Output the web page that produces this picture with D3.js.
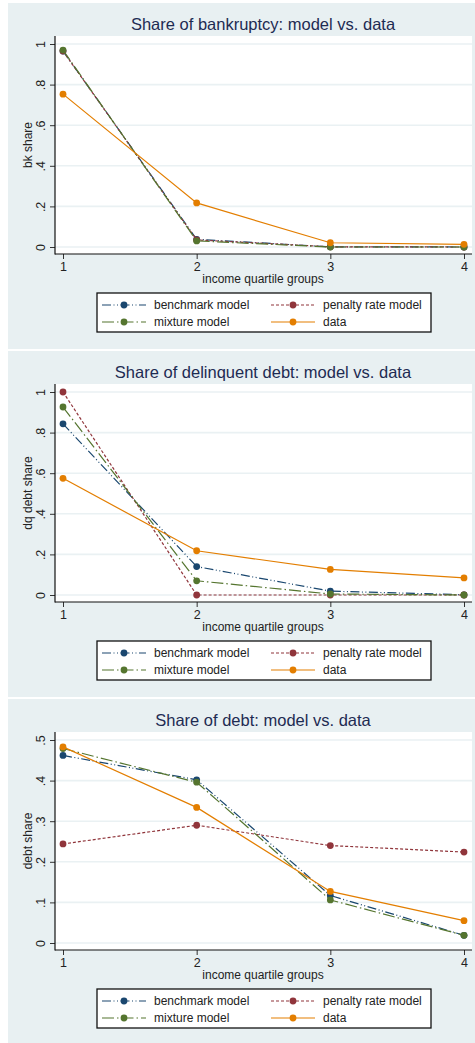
<!DOCTYPE html>
<html><head><meta charset="utf-8">
<script src="https://cdn.jsdelivr.net/npm/d3@7/dist/d3.min.js"></script>
<style>
html,body{margin:0;padding:0;background:#fff;}
svg{display:block;font-family:"Liberation Sans",Arial,Helvetica,sans-serif;}
</style></head>
<body>
<svg id="chart" width="475" height="1043"></svg>
<script>
// ---- data ----
const quartiles = [1, 2, 3, 4];
const seriesNames = ["benchmark model", "penalty rate model", "mixture model", "data"];

const titles = ["Share of bankruptcy: model vs. data", "Share of delinquent debt: model vs. data", "Share of debt: model vs. data"];
const yTitles = ["bk share", "dq debt share", "debt share"];
const xTitle = "income quartile groups";

const bkBenchmark = [0.965, 0.038, 0.001, 0.0];
const bkPenalty   = [0.965, 0.035, 0.001, 0.0];
const bkMixture   = [0.970, 0.030, 0.0, 0.0];
const bkData      = [0.753, 0.217, 0.021, 0.013];

const dqBenchmark = [0.843, 0.140, 0.019, 0.001];
const dqPenalty   = [1.000, 0.0, 0.0, 0.0];
const dqMixture   = [0.926, 0.070, 0.005, 0.0];
const dqData      = [0.575, 0.218, 0.126, 0.084];

const debtBenchmark = [0.462, 0.402, 0.117, 0.019];
const debtPenalty   = [0.244, 0.290, 0.240, 0.224];
const debtMixture   = [0.479, 0.396, 0.106, 0.019];
const debtData      = [0.483, 0.334, 0.127, 0.055];

const yTicks1 = [0, 0.2, 0.4, 0.6, 0.8, 1];
const yTickLabels1 = ["0", ".2", ".4", ".6", ".8", "1"];
const yTicks3 = [0, 0.1, 0.2, 0.3, 0.4, 0.5];
const yTickLabels3 = ["0", ".1", ".2", ".3", ".4", ".5"];

const panels = [
  {title: titles[0], yTitle: yTitles[0], series: [bkBenchmark, bkPenalty, bkMixture, bkData], ticks: yTicks1, labels: yTickLabels1, max: 1},
  {title: titles[1], yTitle: yTitles[1], series: [dqBenchmark, dqPenalty, dqMixture, dqData], ticks: yTicks1, labels: yTickLabels1, max: 1},
  {title: titles[2], yTitle: yTitles[2], series: [debtBenchmark, debtPenalty, debtMixture, debtData], ticks: yTicks3, labels: yTickLabels3, max: 0.5}
];

// ---- styles ----
const colors = ["#1a476f", "#90353b", "#55752f", "#e37e00"];
const dashes = ["9,2.5,1,2.5,1,2.5", "3,2", "12,3,1.5,3", null];
const bg = "#e8f0f2";
const grid = "#eaf1f3";
const titleColor = "#1e2b52";

const svg = d3.select("#chart");
svg.append("rect").attr("x",0).attr("y",0).attr("width",475).attr("height",1043).attr("fill","#fff");

const panelTops = [3, 351, 699];
const panelHeights = [346, 346, 344];

panels.forEach((p, i) => {
  const top = panelTops[i];
  const g = svg.append("g").attr("transform", `translate(0,${top})`);
  g.append("rect").attr("x",8).attr("y",0).attr("width",467).attr("height",panelHeights[i]).attr("fill",bg);

  const plotL = 55, plotR = 472, plotT = 33, plotB = 251;
  const x = d3.scaleLinear().domain([1,4]).range([63,464]);
  const y = d3.scaleLinear().domain([0,p.max]).range([244,41]);

  g.append("rect").attr("x",plotL).attr("y",plotT).attr("width",plotR-plotL).attr("height",plotB-plotT).attr("fill","#fff");

  // gridlines
  g.append("g").selectAll("line").data(p.ticks).join("line")
    .attr("x1",plotL).attr("x2",plotR)
    .attr("y1",d=>y(d)).attr("y2",d=>y(d))
    .attr("stroke",grid).attr("stroke-width",1.6);

  // y axis
  const yAxis = d3.axisLeft(y).tickValues(p.ticks).tickSize(5).tickFormat((d,k)=>p.labels[k]);
  const ya = g.append("g").attr("transform",`translate(${plotL},0)`).call(yAxis);
  ya.select(".domain").remove();
  ya.selectAll(".tick line").attr("stroke","#333").attr("stroke-width",1);
  ya.selectAll(".tick text").attr("font-size",12.5).attr("fill","#222")
    .attr("x",0).attr("dy",0)
    .attr("text-anchor","middle")
    .attr("transform", function(d){ return `translate(-10,0) rotate(-90)`; })
    .attr("y",0);
  g.append("line").attr("x1",plotL).attr("x2",plotL).attr("y1",plotT).attr("y2",plotB+0.5)
    .attr("stroke","#111").attr("stroke-width",1.2);

  // x axis
  const xAxis = d3.axisBottom(x).tickValues(quartiles).tickSize(5).tickFormat(d3.format("d"));
  const xa = g.append("g").attr("transform",`translate(0,${plotB})`).call(xAxis);
  xa.select(".domain").remove();
  xa.selectAll(".tick line").attr("stroke","#333").attr("stroke-width",1);
  xa.selectAll(".tick text").attr("font-size",12.5).attr("fill","#222").attr("y",8).attr("dy","0.71em");
  g.append("line").attr("x1",plotL).attr("x2",plotR).attr("y1",plotB).attr("y2",plotB)
    .attr("stroke","#111").attr("stroke-width",1.2);

  // titles
  g.append("text").attr("x",263).attr("y",27).attr("text-anchor","middle")
    .attr("font-size",16.5).attr("fill",titleColor).text(p.title);
  g.append("text").attr("x",263).attr("y",280).attr("text-anchor","middle")
    .attr("font-size",12).attr("fill","#222").text(xTitle);
  g.append("text").attr("transform",`translate(32,142) rotate(-90)`).attr("text-anchor","middle")
    .attr("font-size",12).attr("fill","#222").text(p.yTitle);

  // series
  const line = d3.line().x((d,k)=>x(quartiles[k])).y(d=>y(d));
  p.series.forEach((vals, s) => {
    const path = g.append("path").datum(vals).attr("d",line).attr("fill","none")
      .attr("stroke",colors[s]).attr("stroke-width",1.2);
    if (dashes[s]) path.attr("stroke-dasharray",dashes[s]);
    g.append("g").selectAll("circle").data(vals).join("circle")
      .attr("cx",(d,k)=>x(quartiles[k])).attr("cy",d=>y(d)).attr("r",3.4)
      .attr("fill",colors[s]);
  });

  // legend
  const lg = g.append("g");
  lg.append("rect").attr("x",97).attr("y",290).attr("width",334).attr("height",39)
    .attr("fill","#fff").attr("stroke","#111").attr("stroke-width",1.3);
  const legPos = [[102,302],[271,302],[102,319],[271,319]];
  seriesNames.forEach((name, s) => {
    const [lx, ly] = legPos[s];
    const l = lg.append("line").attr("x1",lx).attr("x2",lx+44).attr("y1",ly).attr("y2",ly)
      .attr("stroke",colors[s]).attr("stroke-width",1.2);
    if (dashes[s]) l.attr("stroke-dasharray",dashes[s]);
    lg.append("circle").attr("cx",lx+22).attr("cy",ly).attr("r",3.4).attr("fill",colors[s]);
    lg.append("text").attr("x",lx+52).attr("y",ly+4.3).attr("font-size",12).attr("fill","#222").text(name);
  });
});
</script>
</body></html>
